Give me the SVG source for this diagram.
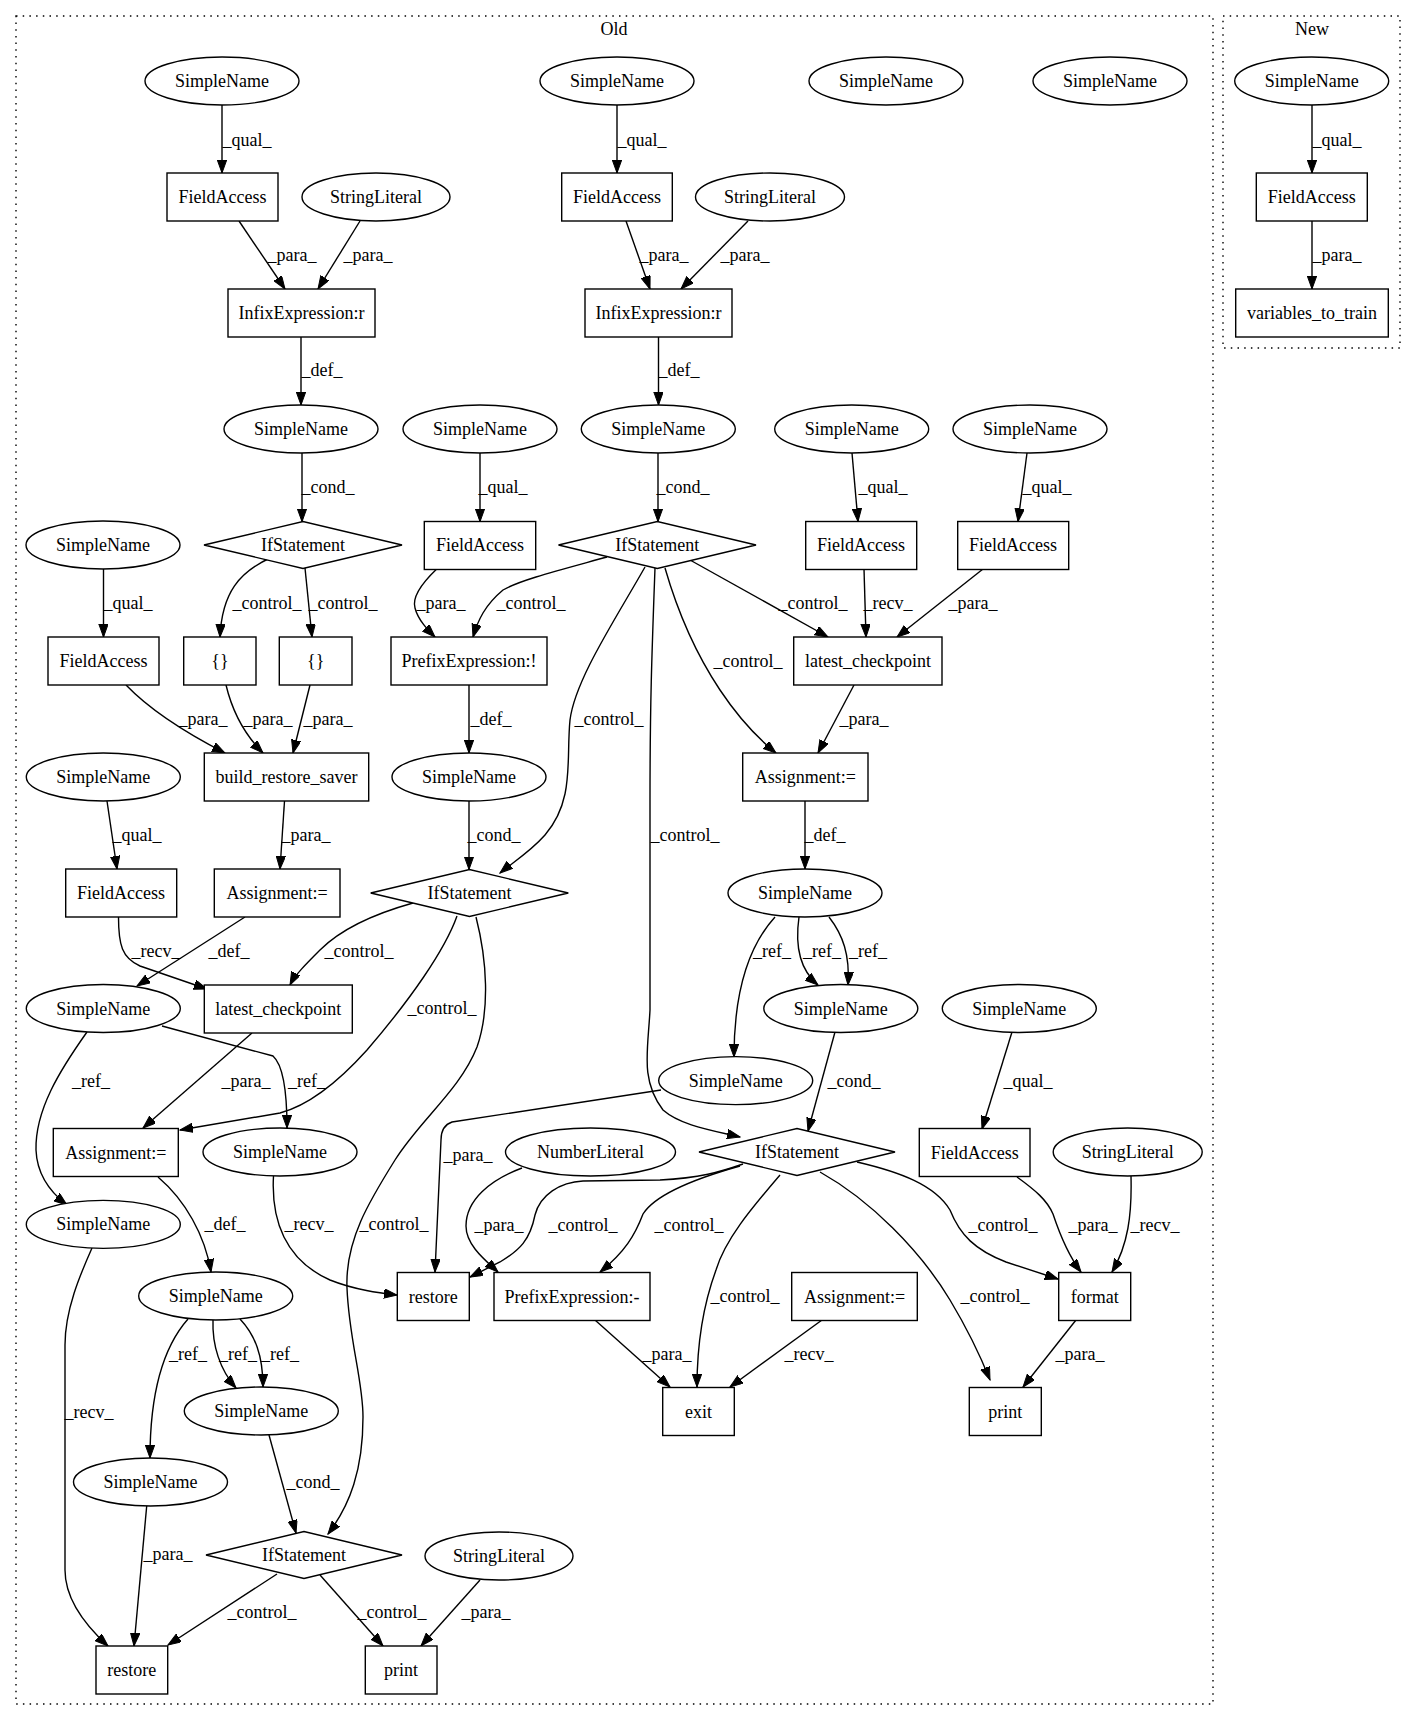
<svg xmlns="http://www.w3.org/2000/svg" width="1416" height="1724" viewBox="0 0 1416 1724">
<style>
text{font-family:"Liberation Serif","Times New Roman",serif;font-size:18px;fill:#000;text-anchor:middle}
.n{fill:#fff;stroke:#000;stroke-width:1.4}
.e{fill:none;stroke:#000;stroke-width:1.4;marker-end:url(#ah)}
.c{fill:none;stroke:#000;stroke-width:1.4;stroke-dasharray:1.5,5.2}
</style>
<defs>
<marker id="ah" markerUnits="userSpaceOnUse" markerWidth="14" markerHeight="10" refX="13" refY="4.7" orient="auto">
<path d="M0,0 L13,4.7 L0,9.4 z" fill="#000" stroke="#000" stroke-width="1"/>
</marker>
</defs>
<rect width="1416" height="1724" fill="#fff"/>
<g id="cluster_old"><rect class="c" x="16" y="16" width="1197" height="1688"/><text x="614" y="35">Old</text></g>
<g id="cluster_new"><rect class="c" x="1223" y="16" width="177" height="332"/><text x="1312" y="35">New</text></g>

<g id="connectors">
<path class="e" d="M222,104.7 L222,173"/><text x="247" y="146">_qual_</text>
<path class="e" d="M239,221 L285,289"/><text x="292" y="261">_para_</text>
<path class="e" d="M360,221 L318,289"/><text x="368" y="261">_para_</text>
<path class="e" d="M301,337 L301,405"/><text x="322" y="376">_def_</text>
<path class="e" d="M302,453 L302,521.7"/><text x="328" y="493">_cond_</text>
<path class="e" d="M270,558 C240,572 222,592 220,637"/><text x="267" y="609">_control_</text>
<path class="e" d="M305,568 L312,637"/><text x="343" y="609">_control_</text>
<path class="e" d="M103.5,569 L103.5,637"/><text x="128" y="609">_qual_</text>
<path class="e" d="M126,685 C150,710 190,735 225,753"/><text x="203" y="725">_para_</text>
<path class="e" d="M226,685 C232,710 245,735 263,753"/><text x="268" y="725">_para_</text>
<path class="e" d="M310,685 L293,753"/><text x="328" y="725">_para_</text>
<path class="e" d="M107,801 L117,869"/><text x="137" y="841">_qual_</text>
<path class="e" d="M284.5,801 L280,869"/><text x="306" y="841">_para_</text>
<path class="e" d="M118.5,917 C118.5,945 122,958 140,966 L207,989"/><text x="156" y="957">_recv_</text>
<path class="e" d="M245,917 L137,986"/><text x="229" y="957">_def_</text>
<path class="e" d="M413,903 C370,915 340,930 320,950 C305,965 295,975 290,985"/><text x="359" y="957">_control_</text>
<path class="e" d="M457,916 C445,950 410,1000 367,1050 C340,1080 310,1105 280,1113 L180,1130"/><text x="442" y="1014">_control_</text>
<path class="e" d="M252,1033 L143,1128"/><text x="246" y="1087">_para_</text>
<path class="e" d="M87,1032 C60,1070 35,1110 36,1150 C37,1175 50,1192 67,1205"/><text x="91" y="1087">_ref_</text>
<path class="e" d="M162,1026 L273,1056 C283,1065 287,1090 287,1128"/><text x="307" y="1087">_ref_</text>
<path class="e" d="M158,1177 C185,1200 205,1235 211,1272"/><text x="225" y="1230">_def_</text>
<path class="e" d="M273.5,1176 C271,1220 285,1260 330,1280 C355,1290 380,1293 397,1295"/><text x="309" y="1230">_recv_</text>
<path class="e" d="M92,1248 C80,1275 65,1310 65,1345 L65,1570 C65,1600 85,1625 108,1646"/><text x="89" y="1418">_recv_</text>
<path class="e" d="M188,1319 C165,1345 150,1390 150,1458"/><text x="188" y="1360">_ref_</text>
<path class="e" d="M213,1320 C212,1345 220,1370 236,1388"/><text x="238" y="1360">_ref_</text>
<path class="e" d="M240,1319 C255,1335 263,1355 263,1387"/><text x="280" y="1360">_ref_</text>
<path class="e" d="M269,1435 L296,1533"/><text x="313" y="1488">_cond_</text>
<path class="e" d="M476,917 C487,960 490,1010 477,1047 C460,1090 420,1120 395,1160 C370,1200 345,1240 347,1288 C349,1340 363,1380 363,1417 C363,1470 350,1505 328,1534"/><text x="394" y="1230">_control_</text>
<path class="e" d="M146.7,1506 L134,1646"/><text x="168" y="1560">_para_</text>
<path class="e" d="M277,1574 L168,1645"/><text x="262" y="1618">_control_</text>
<path class="e" d="M320,1575 L383,1646"/><text x="392" y="1618">_control_</text>
<path class="e" d="M480,1580 L421,1646"/><text x="486" y="1618">_para_</text>

<path class="e" d="M469,685 L469,753"/><text x="491" y="725">_def_</text>
<path class="e" d="M469,801 L469,869.5"/><text x="494" y="841">_cond_</text>

<path class="e" d="M617,104.7 L617,173"/><text x="642" y="146">_qual_</text>
<path class="e" d="M626,221 L650,289"/><text x="664" y="261">_para_</text>
<path class="e" d="M748,221 L681,289"/><text x="745" y="261">_para_</text>
<path class="e" d="M658.5,337 L658.5,405"/><text x="679" y="376">_def_</text>
<path class="e" d="M658,453 L658,521.7"/><text x="683" y="493">_cond_</text>
<path class="e" d="M480,453 L480,521.7"/><text x="503" y="493">_qual_</text>
<path class="e" d="M852,453 L858,521.5"/><text x="883" y="493">_qual_</text>
<path class="e" d="M1027,453 L1018,521.5"/><text x="1047" y="493">_qual_</text>
<path class="e" d="M436.7,569 C420,585 412,598 415,608 C418,620 428,630 435,637"/><text x="441" y="609">_para_</text>
<path class="e" d="M607,557 C560,570 520,580 503,590 C485,605 478,620 473,637"/><text x="531" y="609">_control_</text>
<path class="e" d="M645,567 C615,620 575,680 570,720 C566,760 575,800 545,835 C530,852 512,863 500,873"/><text x="609" y="725">_control_</text>
<path class="e" d="M690,560 L828,637"/><text x="813" y="609">_control_</text>
<path class="e" d="M665,568 C680,620 700,660 720,690 C740,720 760,740 776,753"/><text x="748" y="667">_control_</text>
<path class="e" d="M655,568 C652,650 650,700 650,800 L650,1010 C648,1050 640,1080 663,1110 C680,1125 710,1130 740,1137"/><text x="685" y="841">_control_</text>
<path class="e" d="M864,569 L866,637"/><text x="888" y="609">_recv_</text>
<path class="e" d="M983,569 L897,637"/><text x="973" y="609">_para_</text>
<path class="e" d="M854,685 L818,753"/><text x="864" y="725">_para_</text>
<path class="e" d="M805,801 L805,869"/><text x="825" y="841">_def_</text>
<path class="e" d="M775,917 C745,950 734,1000 734,1057"/><text x="772" y="957">_ref_</text>
<path class="e" d="M799,917 C795,945 800,970 818,985"/><text x="822" y="957">_ref_</text>
<path class="e" d="M829,917 C843,935 850,955 848,985"/><text x="868" y="957">_ref_</text>
<path class="e" d="M835,1032 L808,1131"/><text x="854" y="1087">_cond_</text>
<path class="e" d="M661,1090 L452,1122 C443,1125 441,1133 441,1140 L435,1272"/><text x="468" y="1161">_para_</text>
<path class="e" d="M522,1168 C490,1180 466,1200 466,1226 C466,1245 485,1260 498,1272"/><text x="499" y="1231">_para_</text>
<path class="e" d="M743,1164 C720,1172 700,1178 660,1180 L583,1181 C560,1182 540,1195 535,1215 C530,1240 520,1250 500,1262 L470,1277"/><text x="583" y="1231">_control_</text>
<path class="e" d="M740,1166 C690,1180 655,1195 643,1214 C635,1235 625,1252 600,1272"/><text x="689" y="1231">_control_</text>
<path class="e" d="M780,1175 C750,1210 725,1240 716,1270 C705,1300 697,1340 697,1387"/><text x="745" y="1302">_control_</text>
<path class="e" d="M820,1172 C870,1200 920,1250 950,1300 C965,1325 980,1355 990,1380"/><text x="995" y="1302">_control_</text>
<path class="e" d="M857,1162 C900,1172 935,1185 950,1210 C960,1235 975,1250 1006,1262 L1058,1279"/><text x="1003" y="1231">_control_</text>
<path class="e" d="M1017,1177 C1035,1190 1047,1200 1053,1214 C1060,1235 1068,1255 1081,1272"/><text x="1093" y="1231">_para_</text>
<path class="e" d="M1131,1176 C1132,1215 1128,1245 1112,1272"/><text x="1155" y="1231">_recv_</text>
<path class="e" d="M1012,1032 L982,1129"/><text x="1028" y="1087">_qual_</text>
<path class="e" d="M595,1320 L670,1387"/><text x="667" y="1360">_para_</text>
<path class="e" d="M822,1320 L730,1387"/><text x="809" y="1360">_recv_</text>
<path class="e" d="M1076,1320 L1023,1387"/><text x="1080" y="1360">_para_</text>

<path class="e" d="M1312,104.7 L1312,173"/><text x="1337" y="146">_qual_</text>
<path class="e" d="M1312,221 L1312,289"/><text x="1337" y="261">_para_</text>
</g>

<g id="n1"><ellipse class="n" cx="222" cy="81" rx="77" ry="24"/><text x="222" y="87">SimpleName</text></g>
<g id="n2"><rect class="n" x="167" y="173" width="111" height="48"/><text x="222.5" y="203">FieldAccess</text></g>
<g id="n3"><ellipse class="n" cx="376" cy="197" rx="74" ry="24"/><text x="376" y="203">StringLiteral</text></g>
<g id="n4"><rect class="n" x="228" y="289" width="147" height="48"/><text x="301.5" y="319">InfixExpression:r</text></g>
<g id="n5"><ellipse class="n" cx="301" cy="429" rx="77" ry="24"/><text x="301" y="435">SimpleName</text></g>
<g id="n6"><path class="n" d="M204,545 L303,521.5 L402,545 L303,568.5 Z"/><text x="303" y="551">IfStatement</text></g>
<g id="n7"><ellipse class="n" cx="617" cy="81" rx="77" ry="24"/><text x="617" y="87">SimpleName</text></g>
<g id="n8"><rect class="n" x="561.7" y="173" width="110.6" height="48"/><text x="617" y="203">FieldAccess</text></g>
<g id="n9"><ellipse class="n" cx="770" cy="197" rx="74.5" ry="24"/><text x="770" y="203">StringLiteral</text></g>
<g id="n10"><rect class="n" x="585" y="289" width="147" height="48"/><text x="658.5" y="319">InfixExpression:r</text></g>
<g id="n11"><ellipse class="n" cx="658.3" cy="429" rx="77" ry="24"/><text x="658.3" y="435">SimpleName</text></g>
<g id="n12"><path class="n" d="M558.5,545 L657.3,521.5 L756,545 L657.3,568.5 Z"/><text x="657.3" y="551">IfStatement</text></g>
<g id="n13"><ellipse class="n" cx="886" cy="81" rx="77" ry="24"/><text x="886" y="87">SimpleName</text></g>
<g id="n14"><ellipse class="n" cx="1110" cy="81" rx="77" ry="24"/><text x="1110" y="87">SimpleName</text></g>
<g id="n15"><ellipse class="n" cx="103" cy="545" rx="77" ry="24"/><text x="103" y="551">SimpleName</text></g>
<g id="n16"><ellipse class="n" cx="480" cy="429" rx="77" ry="24"/><text x="480" y="435">SimpleName</text></g>
<g id="n17"><ellipse class="n" cx="851.7" cy="429" rx="77" ry="24"/><text x="851.7" y="435">SimpleName</text></g>
<g id="n18"><ellipse class="n" cx="1030" cy="429" rx="77" ry="24"/><text x="1030" y="435">SimpleName</text></g>
<g id="n19"><rect class="n" x="48" y="637" width="111" height="48"/><text x="103.5" y="667">FieldAccess</text></g>
<g id="n20"><rect class="n" x="183.7" y="637" width="72.3" height="48"/><text x="220" y="667">{}</text></g>
<g id="n21"><rect class="n" x="279.3" y="637" width="72.7" height="48"/><text x="315.7" y="667">{}</text></g>
<g id="n22"><rect class="n" x="424.3" y="521.5" width="111.4" height="48"/><text x="480" y="551">FieldAccess</text></g>
<g id="n23"><rect class="n" x="805.7" y="521.5" width="111" height="48"/><text x="861" y="551">FieldAccess</text></g>
<g id="n24"><rect class="n" x="957.7" y="521.5" width="111" height="48"/><text x="1013" y="551">FieldAccess</text></g>
<g id="n25"><rect class="n" x="391" y="637" width="156" height="48"/><text x="469" y="667">PrefixExpression:!</text></g>
<g id="n26"><rect class="n" x="793.7" y="637" width="148.3" height="48"/><text x="868" y="667">latest_checkpoint</text></g>
<g id="n27"><rect class="n" x="204.3" y="753" width="164.4" height="48"/><text x="286.5" y="783">build_restore_saver</text></g>
<g id="n28"><ellipse class="n" cx="103.3" cy="777" rx="77" ry="24"/><text x="103.3" y="783">SimpleName</text></g>
<g id="n29"><ellipse class="n" cx="469" cy="777" rx="77" ry="24"/><text x="469" y="783">SimpleName</text></g>
<g id="n30"><rect class="n" x="742.7" y="753" width="125.3" height="48"/><text x="805.3" y="783">Assignment:=</text></g>
<g id="n31"><rect class="n" x="65.7" y="869" width="111" height="48"/><text x="121" y="899">FieldAccess</text></g>
<g id="n32"><rect class="n" x="214.3" y="869" width="125.7" height="48"/><text x="277" y="899">Assignment:=</text></g>
<g id="n33"><path class="n" d="M370.7,893 L469.5,869.5 L568.3,893 L469.5,916.5 Z"/><text x="469.5" y="899">IfStatement</text></g>
<g id="n34"><ellipse class="n" cx="805" cy="893" rx="77" ry="24"/><text x="805" y="899">SimpleName</text></g>
<g id="n35"><ellipse class="n" cx="103.3" cy="1008.5" rx="77" ry="24"/><text x="103.3" y="1014.5">SimpleName</text></g>
<g id="n36"><rect class="n" x="204.3" y="985" width="148" height="48"/><text x="278.3" y="1015">latest_checkpoint</text></g>
<g id="n37"><ellipse class="n" cx="840.8" cy="1008.5" rx="77" ry="24"/><text x="840.8" y="1014.5">SimpleName</text></g>
<g id="n38"><ellipse class="n" cx="1019.3" cy="1008.5" rx="77" ry="24"/><text x="1019.3" y="1014.5">SimpleName</text></g>
<g id="n39"><ellipse class="n" cx="735.7" cy="1080.6" rx="77" ry="24"/><text x="735.7" y="1086.6">SimpleName</text></g>
<g id="n40"><rect class="n" x="53.3" y="1128.5" width="125" height="48"/><text x="115.8" y="1158.5">Assignment:=</text></g>
<g id="n41"><ellipse class="n" cx="280" cy="1152" rx="77" ry="24"/><text x="280" y="1158">SimpleName</text></g>
<g id="n42"><ellipse class="n" cx="590.5" cy="1152" rx="85" ry="24"/><text x="590.5" y="1158">NumberLiteral</text></g>
<g id="n43"><path class="n" d="M699,1152 L797,1128.5 L895,1152 L797,1175.5 Z"/><text x="797" y="1158">IfStatement</text></g>
<g id="n44"><rect class="n" x="919.3" y="1128.5" width="110.7" height="48"/><text x="974.7" y="1158.5">FieldAccess</text></g>
<g id="n45"><ellipse class="n" cx="1127.7" cy="1152" rx="74.5" ry="24"/><text x="1127.7" y="1158">StringLiteral</text></g>
<g id="n46"><ellipse class="n" cx="103.3" cy="1224.4" rx="77" ry="24"/><text x="103.3" y="1230.4">SimpleName</text></g>
<g id="n47"><ellipse class="n" cx="215.7" cy="1296" rx="77" ry="24"/><text x="215.7" y="1302">SimpleName</text></g>
<g id="n48"><rect class="n" x="397.3" y="1272.5" width="72" height="48"/><text x="433.3" y="1302.5">restore</text></g>
<g id="n49"><rect class="n" x="494" y="1272.5" width="156" height="48"/><text x="572" y="1302.5">PrefixExpression:-</text></g>
<g id="n50"><rect class="n" x="791.7" y="1272.5" width="125.6" height="48"/><text x="854.5" y="1302.5">Assignment:=</text></g>
<g id="n51"><rect class="n" x="1058.7" y="1272.5" width="72" height="48"/><text x="1094.7" y="1302.5">format</text></g>
<g id="n52"><ellipse class="n" cx="261.3" cy="1411" rx="77" ry="24"/><text x="261.3" y="1417">SimpleName</text></g>
<g id="n53"><rect class="n" x="662.7" y="1387.5" width="71.6" height="48"/><text x="698.5" y="1417.5">exit</text></g>
<g id="n54"><rect class="n" x="969.3" y="1387.5" width="72" height="48"/><text x="1005.3" y="1417.5">print</text></g>
<g id="n55"><ellipse class="n" cx="150.5" cy="1482" rx="77" ry="24"/><text x="150.5" y="1488">SimpleName</text></g>
<g id="n56"><path class="n" d="M206,1555 L304,1531.5 L402,1555 L304,1578.5 Z"/><text x="304" y="1561">IfStatement</text></g>
<g id="n57"><ellipse class="n" cx="499" cy="1556" rx="74" ry="24"/><text x="499" y="1562">StringLiteral</text></g>
<g id="n58"><rect class="n" x="96" y="1646" width="71.7" height="48"/><text x="131.8" y="1676">restore</text></g>
<g id="n59"><rect class="n" x="365.3" y="1646" width="71.7" height="48"/><text x="401" y="1676">print</text></g>

<g id="n60"><ellipse class="n" cx="1311.7" cy="81" rx="77" ry="24"/><text x="1311.7" y="87">SimpleName</text></g>
<g id="n61"><rect class="n" x="1256.3" y="173" width="111" height="48"/><text x="1311.8" y="203">FieldAccess</text></g>
<g id="n62"><rect class="n" x="1235.7" y="289" width="152.6" height="48"/><text x="1312" y="319">variables_to_train</text></g>
</svg>
